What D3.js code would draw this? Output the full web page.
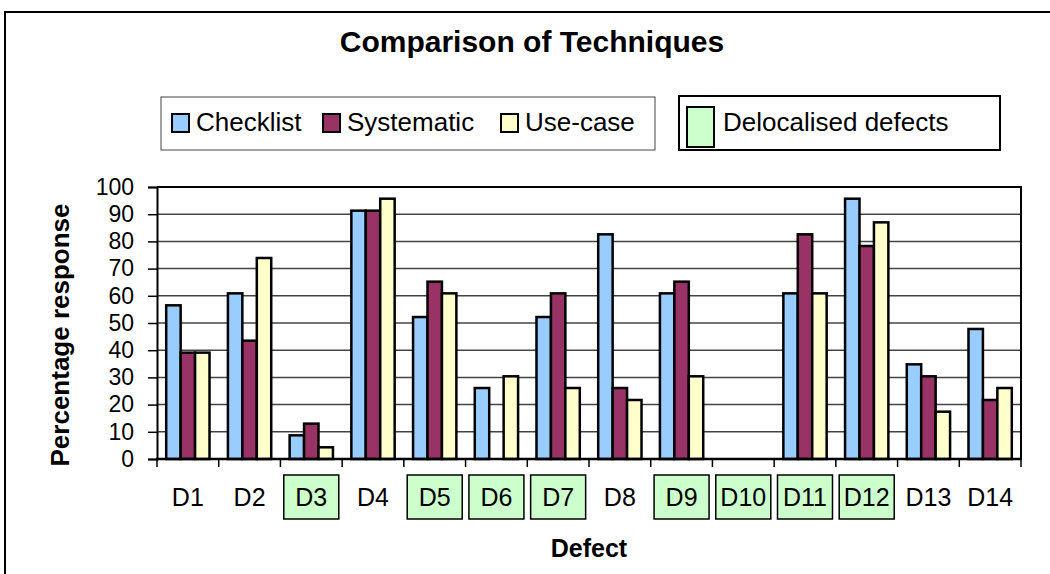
<!DOCTYPE html>
<html lang="en">
<head>
<meta charset="UTF-8">
<title>Comparison of Techniques</title>
<script src="https://d3js.org/d3.v7.min.js"></script>
<style>
    body, html { margin: 0; padding: 0; background: #fff; }
    text { font-family: "Liberation Sans", Arial, sans-serif; fill: #000; }
</style>
</head>
<body>
<div id="chart"></div>
<script>
    // data (percent of 23 responses)
    const defects = ["D1", "D2", "D3", "D4", "D5", "D6", "D7", "D8", "D9", "D10", "D11", "D12", "D13", "D14"];
    const delocalised = ["D3", "D5", "D6", "D7", "D9", "D10", "D11", "D12"];
    const seriesNames = ["Checklist", "Systematic", "Use-case"];
    const checklist = [56.5, 60.9, 8.7, 91.3, 52.2, 26.1, 52.2, 82.6, 60.9, 0, 60.9, 95.7, 34.8, 47.8];
    const systematic = [39.1, 43.5, 13.0, 91.3, 65.2, 0, 60.9, 26.1, 65.2, 0, 82.6, 78.3, 30.4, 21.7];
    const useCase = [39.1, 73.9, 4.3, 95.7, 60.9, 30.4, 26.1, 21.7, 30.4, 0, 60.9, 87.0, 17.4, 26.1];
    const yTicks = [0, 10, 20, 30, 40, 50, 60, 70, 80, 90, 100];

    const colors = ["#99ccff", "#993366", "#ffffcc"];
    const width = 1050, height = 574;
    const plot = { left: 157, right: 1021, top: 187, bottom: 459 };

    const svg = d3.select("#chart").append("svg")
        .attr("width", width)
        .attr("height", height);

    // outer chart frame (runs off the right and bottom edges)
    svg.append("rect")
        .attr("x", 5).attr("y", 12)
        .attr("width", 1100).attr("height", 620)
        .attr("fill", "none").attr("stroke", "#000").attr("stroke-width", 2);

    svg.append("text")
        .attr("x", 532).attr("y", 52)
        .attr("text-anchor", "middle")
        .style("font-size", "30px").style("font-weight", "bold")
        .text("Comparison of Techniques");

    const x0 = d3.scaleBand().domain(defects).range([plot.left, plot.right]).padding(0);
    const pad = 9.2;
    const x1 = d3.scaleBand().domain(seriesNames).range([pad, x0.bandwidth() - pad]).padding(0);
    const y = d3.scaleLinear().domain([0, 100]).range([plot.bottom, plot.top]);

    // gridlines
    svg.append("g")
        .selectAll("line")
        .data(yTicks.filter(d => d > 0 && d < 100))
        .enter().append("line")
        .attr("x1", plot.left).attr("x2", plot.right)
        .attr("y1", d => y(d)).attr("y2", d => y(d))
        .attr("stroke", "#444").attr("stroke-width", 1.5);

    // plot border top/right
    svg.append("path")
        .attr("d", `M${plot.left},${plot.top}H${plot.right}V${plot.bottom}`)
        .attr("fill", "none").attr("stroke", "#000").attr("stroke-width", 2);

    const table = defects.map((d, i) => ({
        defect: d,
        values: [checklist[i], systematic[i], useCase[i]]
    }));

    const groups = svg.append("g").selectAll("g")
        .data(table)
        .enter().append("g")
        .attr("transform", d => `translate(${x0(d.defect)},0)`);

    groups.selectAll("rect")
        .data(d => d.values.map((v, j) => ({ name: seriesNames[j], v: v, j: j })).filter(b => b.v > 0))
        .enter().append("rect")
        .attr("x", b => x1(b.name))
        .attr("y", b => y(b.v))
        .attr("width", x1.bandwidth())
        .attr("height", b => plot.bottom - y(b.v))
        .attr("fill", b => colors[b.j])
        .attr("stroke", "#000").attr("stroke-width", 2.5);

    // y axis
    const yAxis = svg.append("g")
        .attr("transform", `translate(${plot.left},0)`)
        .call(d3.axisLeft(y).tickValues(yTicks).tickSize(9).tickPadding(14));
    yAxis.select(".domain").attr("stroke", "#000").attr("stroke-width", 2);
    yAxis.selectAll(".tick line").attr("stroke", "#000").attr("stroke-width", 1.5);
    yAxis.selectAll(".tick text")
        .style("font-size", "23px")
        .style("font-family", "'Liberation Sans', Arial, sans-serif")
        .attr("fill", "#000");

    // x axis: tick marks at category boundaries
    const bounds = d3.range(defects.length + 1).map(i => plot.left + i * x0.step());
    svg.append("g").selectAll("line")
        .data(bounds)
        .enter().append("line")
        .attr("x1", d => d).attr("x2", d => d)
        .attr("y1", plot.bottom).attr("y2", plot.bottom + 8)
        .attr("stroke", "#000").attr("stroke-width", 1.5);
    svg.append("line")
        .attr("x1", plot.left - 1).attr("x2", plot.right + 1)
        .attr("y1", plot.bottom).attr("y2", plot.bottom)
        .attr("stroke", "#000").attr("stroke-width", 2.5);

    // category labels, boxed when delocalised
    const labels = svg.append("g").selectAll("g")
        .data(defects)
        .enter().append("g")
        .attr("transform", d => `translate(${x0(d) + x0.bandwidth() / 2},0)`);
    labels.filter(d => delocalised.includes(d))
        .append("rect")
        .attr("x", -27.5).attr("y", 475)
        .attr("width", 55).attr("height", 44)
        .attr("fill", "#ccffcc").attr("stroke", "#000").attr("stroke-width", 1.5);
    labels.append("text")
        .attr("y", 506)
        .attr("text-anchor", "middle")
        .style("font-size", "25px")
        .text(d => d);

    // axis titles
    svg.append("text")
        .attr("x", (plot.left + plot.right) / 2).attr("y", 557)
        .attr("text-anchor", "middle")
        .style("font-size", "25px").style("font-weight", "bold")
        .text("Defect");
    svg.append("text")
        .attr("transform", "translate(69,335) rotate(-90)")
        .attr("text-anchor", "middle")
        .style("font-size", "26px").style("font-weight", "bold")
        .text("Percentage response");

    // legend 1: techniques
    const leg1 = svg.append("g");
    leg1.append("rect")
        .attr("x", 161).attr("y", 97).attr("width", 494).attr("height", 53)
        .attr("fill", "#fff").attr("stroke", "#444").attr("stroke-width", 1);
    const legX = [172, 323, 501];
    seriesNames.forEach((name, j) => {
        leg1.append("rect")
            .attr("x", legX[j]).attr("y", 114)
            .attr("width", 17).attr("height", 18)
            .attr("fill", colors[j]).attr("stroke", "#000").attr("stroke-width", 2);
        leg1.append("text")
            .attr("x", legX[j] + 24).attr("y", 131)
            .style("font-size", "26px")
            .text(name);
    });

    // legend 2: delocalised defects
    const leg2 = svg.append("g");
    leg2.append("rect")
        .attr("x", 679).attr("y", 96).attr("width", 321).attr("height", 54)
        .attr("fill", "#fff").attr("stroke", "#000").attr("stroke-width", 2);
    leg2.append("rect")
        .attr("x", 687).attr("y", 107).attr("width", 27).attr("height", 40)
        .attr("fill", "#ccffcc").attr("stroke", "#000").attr("stroke-width", 2);
    leg2.append("text")
        .attr("x", 723).attr("y", 131)
        .style("font-size", "26px")
        .text("Delocalised defects");
</script>
</body>
</html>
